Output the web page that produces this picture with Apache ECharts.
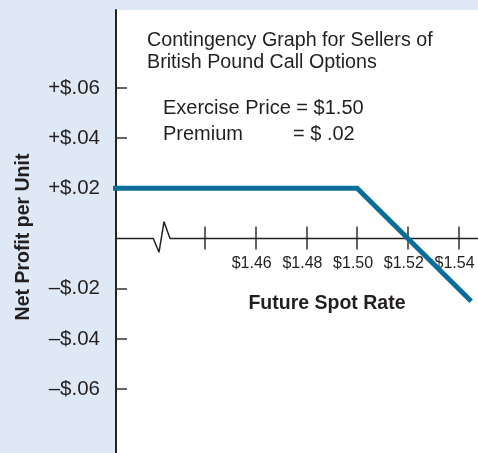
<!DOCTYPE html>
<html>
<head>
<meta charset="utf-8">
<script src="https://cdn.jsdelivr.net/npm/echarts@6/dist/echarts.min.js"></script>
<style>
html,body{margin:0;padding:0;background:#dfe9f5;}
#chart{width:478px;height:453px;}
</style>
</head>
<body>
<div id="chart"></div>
<script>
// ---- data ----
const spotRate = [1.40, 1.50, 1.545];          // future spot rate ($)
const netProfit = [0.02, 0.02, -0.025];        // net profit per unit ($)
const xTickValues = [1.44, 1.46, 1.48, 1.50, 1.52, 1.54];
const xLabelValues = [1.46, 1.48, 1.50, 1.52, 1.54];
const yTickValues = [0.06, 0.04, 0.02, -0.02, -0.04, -0.06];
const yTickLabels = ['+$.06', '+$.04', '+$.02', '\u2013$.02', '\u2013$.04', '\u2013$.06'];
// horizontal axis baseline with break symbol (spot, profit)
const axisBaseX = [1.40, 1.4196, 1.42185, 1.42383, 1.42619, 1.56];
const axisBaseY = [0, 0, -0.0055, 0.0067, 0, 0];
const titleLines = ['Contingency Graph for Sellers of', 'British Pound Call Options'];
const exerciseText = 'Exercise Price = $1.50';
const premiumLabel = 'Premium';
const premiumValue = '= $ .02';
const xName = 'Future Spot Rate';
const yName = 'Net Profit per Unit';

const FONT = '"Liberation Sans", Arial, sans-serif';
const INK = '#231f20';

const chart = echarts.init(document.getElementById('chart'), null, {renderer: 'canvas'});

const tickStyle = {color: '#333', width: 1.5};
const xAxisCommon = {
  type: 'value',
  min: 1.40489,
  max: 1.54769,
  splitLine: {show: false},
  axisLine: {show: true, onZero: true, onZeroAxisIndex: 0, lineStyle: {color: 'rgba(0,0,0,0)', width: 0}}
};

chart.setOption({
  backgroundColor: '#dfe9f5',
  animation: false,
  grid: {
    left: 116, top: 10, right: 0, bottom: 0,
    show: true, backgroundColor: '#ffffff', borderWidth: 0,
    containLabel: false,
    outerBoundsMode: 'none'
  },
  xAxis: [
    Object.assign({}, xAxisCommon, {
      position: 'bottom',
      axisTick: {show: true, inside: false, length: 11, lineStyle: tickStyle, customValues: xTickValues},
      axisLabel: {
        show: true, customValues: xLabelValues, margin: -197,
        color: INK, fontFamily: FONT, fontSize: 16, padding: [0, 8, 0, 0],
        formatter: v => '$' + Number(v).toFixed(2)
      }
    }),
    Object.assign({}, xAxisCommon, {
      position: 'top',
      axisTick: {show: true, inside: false, length: 12, lineStyle: tickStyle, customValues: xTickValues},
      axisLabel: {show: false}
    })
  ],
  yAxis: {
    type: 'value',
    min: -0.08546,
    max: 0.09104,
    splitLine: {show: false},
    axisLine: {show: true, onZero: false, lineStyle: {color: '#222', width: 2}},
    axisTick: {show: true, inside: true, length: 11, lineStyle: tickStyle, customValues: yTickValues},
    axisLabel: {
      show: true, customValues: yTickValues, margin: 16,
      color: INK, fontFamily: FONT, fontSize: 20.5,
      formatter: v => {
        for (let i = 0; i < yTickValues.length; i++) {
          if (Math.abs(yTickValues[i] - v) < 1e-9) return yTickLabels[i];
        }
        return '';
      }
    }
  },
  series: [
    {
      type: 'line',
      xAxisIndex: 0,
      data: axisBaseX.map((x, i) => [x, axisBaseY[i]]),
      showSymbol: false,
      lineStyle: {color: '#222', width: 1.5},
      z: 2,
      silent: true
    },
    {
      type: 'line',
      xAxisIndex: 0,
      data: spotRate.map((x, i) => [x, netProfit[i]]),
      showSymbol: false,
      lineStyle: {color: '#0b6d99', width: 5, cap: 'butt', join: 'miter'},
      z: 3
    }
  ],
  graphic: [
    {type: 'text', x: 147, y: 41, style: {text: titleLines[0], font: '19.7px ' + FONT, fill: INK, verticalAlign: 'middle'}},
    {type: 'text', x: 147, y: 63, style: {text: titleLines[1], font: '19.7px ' + FONT, fill: INK, verticalAlign: 'middle'}},
    {type: 'text', x: 163, y: 108, style: {text: exerciseText, font: '20px ' + FONT, fill: INK, verticalAlign: 'middle'}},
    {type: 'text', x: 163, y: 134, style: {text: premiumLabel, font: '20px ' + FONT, fill: INK, verticalAlign: 'middle'}},
    {type: 'text', x: 293, y: 134, style: {text: premiumValue, font: '20px ' + FONT, fill: INK, verticalAlign: 'middle'}},
    {type: 'text', x: 327, y: 304, style: {text: xName, font: 'bold 19.5px ' + FONT, fill: INK, align: 'center', verticalAlign: 'middle'}},
    {type: 'text', x: 24, y: 237, rotation: Math.PI / 2, style: {text: yName, font: 'bold 19.5px ' + FONT, fill: INK, align: 'center', verticalAlign: 'middle'}}
  ]
});
</script>
</body>
</html>
